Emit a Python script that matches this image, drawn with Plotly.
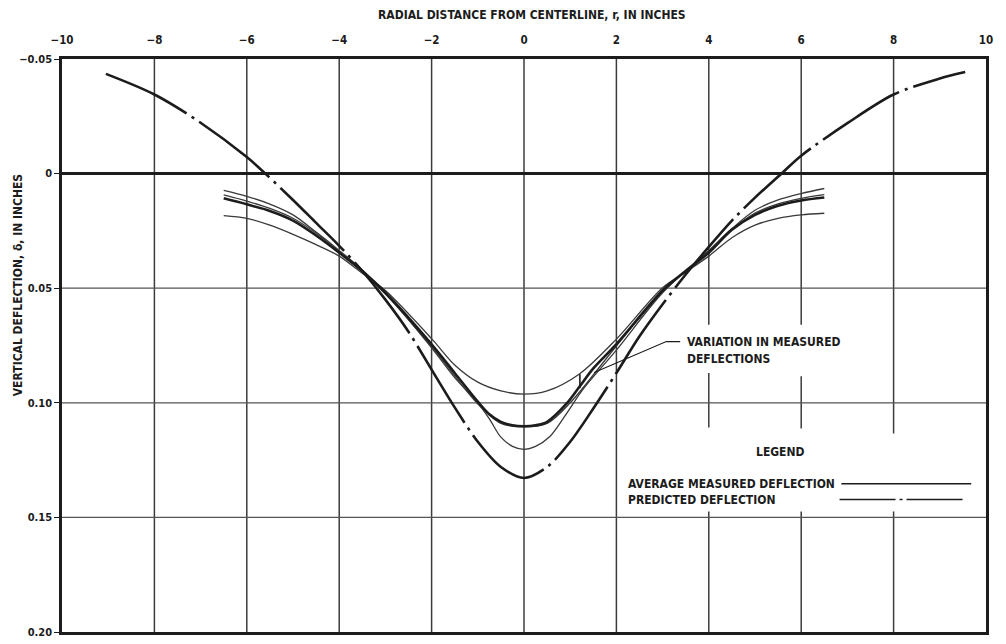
import plotly.graph_objects as go

# ---------------- data ----------------
x_ticks = [-10, -8, -6, -4, -2, 0, 2, 4, 6, 8, 10]
x_tick_text = ["\u221210", "\u22128", "\u22126", "\u22124", "\u22122", "0", "2", "4", "6", "8", "10"]
y_ticks = [-0.05, 0, 0.05, 0.10, 0.15, 0.20]
y_tick_text = ["\u22120.05", "0", "0.05", "0.10", "0.15", "0.20"]

# predicted deflection (dash-dot)
pred_r = [-9.05, -8, -7, -6, -5.6, -5, -4.5, -4, -3.5, -3, -2.5, -2, -1.5, -1, -0.5, 0,
          0.5, 1, 1.5, 2, 2.5, 3, 3.5, 4, 4.5, 5, 5.6, 6, 7, 8, 9, 9.55]
pred_d = [-0.0435, -0.0345, -0.0222, -0.0072, 0.0, 0.0115, 0.0215, 0.0315, 0.0425, 0.055, 0.069, 0.0855,
          0.102, 0.117, 0.128, 0.1328,
          0.128, 0.117, 0.1025, 0.087, 0.071, 0.057, 0.044, 0.032, 0.0205, 0.0105, -0.0005, -0.0078,
          -0.022, -0.0345, -0.0415, -0.0443]

# average measured deflection (thick solid)
avg_r = [-6.5, -6, -5.5, -5, -4.5, -4, -3.5, -3, -2, -1.5, -1, -0.75, -0.5, -0.25, 0,
         0.25, 0.5, 0.92, 1.2, 1.5, 2, 3, 3.5, 4, 4.5, 5, 5.5, 6, 6.5]
avg_d = [0.0108, 0.0134, 0.0163, 0.0205, 0.027, 0.0345, 0.0425, 0.052, 0.0745, 0.087, 0.0995, 0.1050,
         0.1083, 0.1098, 0.1102,
         0.1098, 0.1083, 0.1004, 0.093, 0.085, 0.0744, 0.051, 0.0425, 0.0345, 0.0245, 0.018, 0.014,
         0.0117, 0.0104]

# variation in measured deflections (thin solid)
varA_r = [-6.5, -6, -5.5, -5, -4.5, -4, -3.5, -3, -2, -1.5, -1, -0.5, 0, 0.5, 1.2, 2, 3, 3.5, 4, 4.5,
          5, 5.5, 6, 6.5]
varA_d = [0.0183, 0.0195, 0.0225, 0.0265, 0.031, 0.036, 0.0435, 0.051, 0.072, 0.0835, 0.091, 0.0948,
          0.0962, 0.0948, 0.0874, 0.0722, 0.0498, 0.043, 0.036, 0.028, 0.0225, 0.0195, 0.018, 0.0173]

varB_r = [-6.5, -6, -5.5, -5, -4.5, -4, -3.5, -3, -2, -1.5, -1, -0.75, -0.5, -0.25, 0, 0.25, 0.56,
          0.92, 1.28, 2, 3, 4, 4.5, 5, 5.5, 6, 6.5]
varB_d = [0.0073, 0.0099, 0.0133, 0.018, 0.0255, 0.0335, 0.042, 0.052, 0.076, 0.089, 0.100, 0.107,
          0.115, 0.119, 0.1203, 0.119, 0.1147, 0.1047, 0.094, 0.077, 0.052, 0.0335, 0.024, 0.016,
          0.0115, 0.0087, 0.0065]

varC_r = [-6.5, -6, -5.5, -5, -4.5, -4, -3, -2, -1, -0.5, 0, 0.5, 1, 2, 3, 4, 4.5, 5, 5.5, 6, 6.5]
varC_d = [0.0093, 0.0120, 0.0152, 0.0195, 0.026, 0.034, 0.0525, 0.0755, 0.1005, 0.109, 0.1105, 0.109,
          0.1, 0.0752, 0.0515, 0.034, 0.0245, 0.0172, 0.0132, 0.0108, 0.0092]

# ---------------- figure ----------------
FONT = "DejaVu Sans Condensed, Liberation Sans Narrow, Arial Narrow, sans-serif"
INK = "#1c1c1c"

fig = go.Figure()

for r, d in [(varA_r, varA_d), (varB_r, varB_d), (varC_r, varC_d)]:
    fig.add_trace(go.Scatter(x=r, y=d, mode="lines", showlegend=False, hoverinfo="skip",
                             line=dict(color="#3a3a3a", width=1.3, shape="spline", smoothing=0.9)))

fig.add_trace(go.Scatter(x=avg_r, y=avg_d, mode="lines", showlegend=False,
                         line=dict(color=INK, width=2.6, shape="spline", smoothing=0.9)))

fig.add_trace(go.Scatter(x=pred_r, y=pred_d, mode="lines", showlegend=False,
                         line=dict(color=INK, width=2.6, shape="spline", smoothing=0.9,
                                   dash="90px,6px,3px,6px")))

shapes = []


def seg(x0, y0, x1, y1, w, c, dash=None, layer="below"):
    ln = dict(color=c, width=w)
    if dash:
        ln["dash"] = dash
    shapes.append(dict(type="line", xref="x", yref="y", x0=x0, y0=y0, x1=x1, y1=y1,
                       line=ln, layer=layer))


GRID_V = "#3c3c3c"
GRID_H = "#555555"
# vertical grid lines (some interrupted by the text)
vgaps = {
    4: [(-0.05, 0.066), (0.087, 0.1108), (0.1474, 0.20)],
    6: [(-0.05, 0.066), (0.0884, 0.1112), (0.1474, 0.20)],
    8: [(-0.05, 0.1134), (0.1474, 0.20)],
}
for xv in x_ticks[1:-1]:
    for (a, b) in vgaps.get(xv, [(-0.05, 0.20)]):
        seg(xv, a, xv, b, 1.5, GRID_V)
# horizontal grid lines
for yv in y_ticks[1:-1]:
    if yv == 0:
        continue
    seg(-10, yv, 10, yv, 1.3, GRID_H)
seg(-10, 0, 10, 0, 3, INK)

# bracket and leader for the annotation
seg(1.21, 0.0875, 1.21, 0.0935, 1.6, INK, layer="above")
shapes.append(dict(type="path", xref="x", yref="y",
                   path="M 3.38 0.0733 L 3.08 0.0733 L 1.52 0.0868",
                   line=dict(color=INK, width=1.1)))

# legend sample lines
seg(6.87, 0.1353, 9.68, 0.1353, 1.6, INK, layer="above")
seg(6.83, 0.1422, 9.52, 0.1422, 1.6, INK, dash="56px,4px,3px,4px", layer="above")

tf = dict(family=FONT, size=12, color=INK, weight="bold")
annotations = [
    dict(x=3.48, y=0.0733, xref="x", yref="y", text="VARIATION IN MEASURED", showarrow=False,
         xanchor="left", yanchor="middle", font=tf),
    dict(x=3.48, y=0.0811, xref="x", yref="y", text="DEFLECTIONS", showarrow=False,
         xanchor="left", yanchor="middle", font=tf),
    dict(x=5.55, y=0.1216, xref="x", yref="y", text="LEGEND", showarrow=False,
         xanchor="center", yanchor="middle", font=tf),
    dict(x=2.2, y=0.1356, xref="x", yref="y", text="AVERAGE MEASURED DEFLECTION", showarrow=False,
         xanchor="left", yanchor="middle", font=tf),
    dict(x=2.2, y=0.1426, xref="x", yref="y", text="PREDICTED DEFLECTION", showarrow=False,
         xanchor="left", yanchor="middle", font=tf),
    dict(x=(532 - 62) / 924, y=(639 - 14) / 580, xref="paper", yref="paper",
         text="RADIAL DISTANCE FROM CENTERLINE, r, IN INCHES", showarrow=False,
         xanchor="center", yanchor="middle", font=dict(family=FONT, size=12, color=INK, weight="bold")),
    dict(x=(18 - 62) / 924, y=(639 - 288) / 580, xref="paper", yref="paper",
         text="VERTICAL DEFLECTION, \u03b4, IN INCHES", showarrow=False, textangle=-90,
         xanchor="center", yanchor="middle", font=dict(family=FONT, size=12, color=INK, weight="bold")),
]

fig.update_layout(
    width=1006, height=644,
    margin=dict(l=62, r=20, t=59, b=5),
    paper_bgcolor="white", plot_bgcolor="white",
    showlegend=False,
    shapes=shapes,
    annotations=annotations,
    xaxis=dict(range=[-10, 10], side="top", tickvals=x_ticks, ticktext=x_tick_text,
               showgrid=False, zeroline=False, showline=True, mirror=True,
               linecolor=INK, linewidth=2.5, ticks="", ticklabelstandoff=8,
               tickfont=dict(family=FONT, size=11.5, color=INK, weight="bold")),
    yaxis=dict(range=[0.20, -0.05], tickvals=y_ticks, ticktext=y_tick_text,
               showgrid=False, zeroline=False, showline=True, mirror=True,
               linecolor=INK, linewidth=2.5, ticks="outside", ticklen=5, tickwidth=1.3,
               tickcolor=INK,
               tickfont=dict(family=FONT, size=11, color=INK, weight="bold")),
)

fig.write_html("out.html")
